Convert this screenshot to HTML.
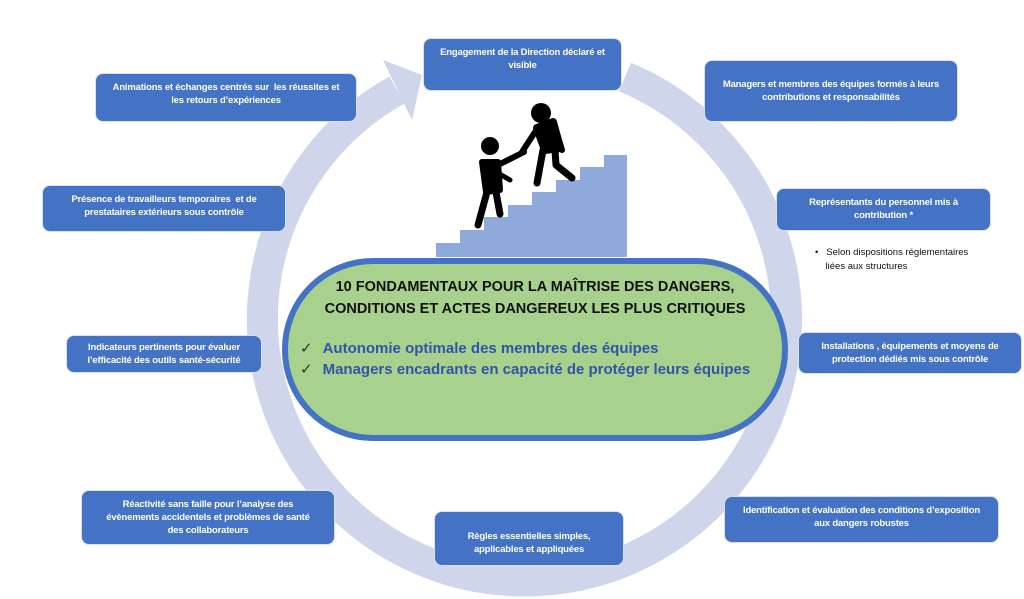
<!DOCTYPE html>
<html><head><meta charset="utf-8"><style>
body{margin:0;width:1024px;height:599px;background:#fff;position:relative;overflow:hidden;font-family:"Liberation Sans",sans-serif}
.b{position:absolute;background:#4472c4;border:1.5px solid #d8e0f0;border-radius:8px;color:#fff;font-weight:bold;font-size:9.5px;line-height:13px;text-align:center;box-sizing:border-box;padding-top:7px;letter-spacing:-0.2px}
svg{position:absolute;left:0;top:0}
</style></head><body>
<svg width="1024" height="599">
<path d="M625 77 A262 262 0 1 1 397 90" fill="none" stroke="#cfd5ea" stroke-width="31"/>
<polygon points="383,60 422,75 412,120" fill="#cfd5ea"/>
<polygon points="436,257 436,243 460,243 460,230 484,230 484,217 508,217 508,205 532,205 532,192 556,192 556,180 580,180 580,167 604,167 604,155 627,155 627,257" fill="#8eaadb"/>
<g fill="#000" stroke="#000" stroke-linecap="round" stroke-linejoin="round">
<circle cx="490" cy="146" r="9" stroke="none"/>
<circle cx="541" cy="113" r="10" stroke="none"/>
<path d="M482 162 L498 162 L500 190 L486 192 Z" stroke-width="6"/>
<path d="M496 166 L524 152" stroke-width="6" fill="none"/>
<path d="M496 172 L510 180" stroke-width="5" fill="none"/>
<path d="M487 192 L478 225" stroke-width="7" fill="none"/>
<path d="M496 192 L500 214" stroke-width="7" fill="none"/>
<path d="M537 128 L553 122 L560 148 L545 150 Z" stroke-width="8"/>
<path d="M535 132 L522 152" stroke-width="6" fill="none"/>
<path d="M556 130 L562 150" stroke-width="6" fill="none"/>
<path d="M543 150 L537 183" stroke-width="7" fill="none"/>
<path d="M555 150 L556 165 L572 178" stroke-width="7" fill="none"/>
</g>
<rect x="285" y="261" width="500" height="177" rx="88" fill="#a9d18e" stroke="#4472c4" stroke-width="6"/>
</svg>
<div style="position:absolute;left:285px;top:276px;width:500px;text-align:center;font-weight:bold;font-size:14.5px;line-height:22px;color:#111">10 FONDAMENTAUX POUR LA MAÎTRISE DES DANGERS,<br>CONDITIONS ET ACTES DANGEREUX LES PLUS CRITIQUES</div>
<div style="position:absolute;left:300px;top:338px;font-weight:bold;font-size:15px;line-height:21px;color:#2f55a8;white-space:nowrap"><span style="color:#333;font-weight:normal;margin-right:10px">✓</span>Autonomie optimale des membres des équipes<br><span style="color:#333;font-weight:normal;margin-right:10px">✓</span>Managers encadrants en capacité de protéger leurs équipes</div>
<div class="b" style="left:423px;top:38px;width:199px;height:53px">Engagement de la Direction déclaré et<br>visible</div>
<div class="b" style="left:704px;top:60px;width:254px;height:62px;padding-top:17px">Managers et membres des équipes formés à leurs<br>contributions et responsabilités</div>
<div class="b" style="left:776px;top:188px;width:215px;height:43px">Représentants du personnel mis à<br>contribution *</div>
<div style="position:absolute;left:815px;top:246px;font-size:9.5px;line-height:14px;color:#111">•&nbsp;&nbsp; Selon dispositions réglementaires<br>&nbsp;&nbsp;&nbsp;&nbsp;liées aux structures</div>
<div class="b" style="left:798px;top:332px;width:224px;height:42px">Installations , équipements et moyens de<br>protection dédiés mis sous contrôle</div>
<div class="b" style="left:724px;top:496px;width:275px;height:47px">Identification et évaluation des conditions d’exposition<br>aux dangers robustes</div>
<div class="b" style="left:434px;top:511px;width:190px;height:55px;padding-top:18px">Règles essentielles simples,<br>applicables et appliquées</div>
<div class="b" style="left:81px;top:490px;width:254px;height:55px">Réactivité sans faille pour l’analyse des<br>évènements accidentels et problèmes de santé<br>des collaborateurs</div>
<div class="b" style="left:66px;top:335px;width:196px;height:38px;padding-top:5px">Indicateurs pertinents pour évaluer<br>l’efficacité des outils santé-sécurité</div>
<div class="b" style="left:42px;top:185px;width:244px;height:47px">Présence de travailleurs temporaires &nbsp;et de<br>prestataires extérieurs sous contrôle</div>
<div class="b" style="left:95px;top:73px;width:262px;height:49px">Animations et échanges centrés sur &nbsp;les réussites et<br>les retours d’expériences</div>
</body></html>
